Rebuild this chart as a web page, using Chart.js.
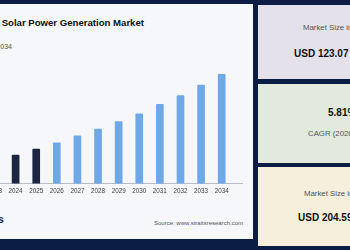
<!DOCTYPE html>
<html>
<head>
<meta charset="utf-8">
<script src="https://cdn.jsdelivr.net/npm/chart.js@4.4.1/dist/chart.umd.min.js"></script>
<style>
  html, body { margin: 0; padding: 0; }
  body { width: 350px; height: 250px; background: #0c1d45; position: relative; overflow: hidden;
         font-family: 'Liberation Sans', Arial, sans-serif; }
  .panel { position: absolute; left: 0; top: 4px; width: 253px; height: 235px; background: #f5f7fb; }
  .card { position: absolute; left: 258px; width: 100px; }
  .t { position: absolute; white-space: nowrap; }
  #chartBox { position: absolute; left: -16px; top: 60px; width: 259px; height: 139px; }
</style>
</head>
<body>
<div class="panel"></div>
<div class="card" style="top:5px;height:74px;background:#e5e1eb"></div>
<div class="card" style="top:84px;height:79px;background:#e1eadd"></div>
<div class="card" style="top:167px;height:79px;background:#f6efdc"></div>

<div class="t" style="right:206px;top:18px;font-size:9.6px;line-height:10px;font-weight:bold;color:#111">Global Solar Power Generation Market</div>
<div class="t" style="right:338px;top:43px;font-size:7px;line-height:8px;color:#555">2021-2034</div>
<div class="t" style="right:346px;top:213px;font-size:11px;line-height:12px;font-weight:bold;color:#1c2541">Straits</div>
<div class="t" style="right:107px;top:220px;font-size:6px;line-height:7px;color:#555">Source: www.straitsresearch.com</div>

<div class="t" style="left:303px;top:24px;font-size:7.8px;line-height:8px;color:#555">Market Size in 2025</div>
<div class="t" style="left:294px;top:48px;font-size:10px;line-height:11px;font-weight:bold;color:#111">USD 123.07 Billion</div>
<div class="t" style="left:328px;top:107px;font-size:10px;line-height:11px;font-weight:bold;color:#111">5.81%</div>
<div class="t" style="left:308px;top:130px;font-size:7.8px;line-height:8px;color:#555">CAGR (2026-2034)</div>
<div class="t" style="left:304px;top:190px;font-size:7.8px;line-height:8px;color:#555">Market Size in 2034</div>
<div class="t" style="left:298px;top:212px;font-size:10px;line-height:11px;font-weight:bold;color:#111">USD 204.59 Billion</div>

<div id="chartBox"><canvas id="chartMarket" width="259" height="139"></canvas></div>

<script>
// market size, USD billion
const years = ['2023', '2024', '2025', '2026', '2027', '2028', '2029', '2030', '2031', '2032', '2033', '2034'];
const marketSize = [110, 116.5, 123.07, 130, 137.5, 145, 153, 161.5, 172, 181.5, 193, 204.59];
const historicalYears = ['2023', '2024', '2025'];

const colorHistory = '#1c2541';
const colorForecast = '#6ea8e6';

const baseline = {
  id: 'baseline',
  beforeDatasetsDraw(chart) {
    const ctx = chart.ctx;
    const y = Math.round(chart.scales.y.getPixelForValue(chart.scales.y.min)) + 0.5;
    ctx.save();
    ctx.strokeStyle = '#b9bdc6';
    ctx.lineWidth = 1;
    ctx.beginPath();
    ctx.moveTo(0, y);
    ctx.lineTo(chart.chartArea.right + 11, y);
    ctx.stroke();
    ctx.restore();
  },
};

function chart() {
  const chart_ctx = document.getElementById('chartMarket');
  new Chart(chart_ctx, {
    type: 'bar',
    data: {
      labels: years,
      datasets: [
        {
          data: marketSize,
          backgroundColor: years.map(function (y) {
            return historicalYears.includes(y) ? colorHistory : colorForecast;
          }),
          barThickness: 7,
          borderRadius: 1,
          borderSkipped: 'bottom',
        },
      ],
    },
    options: {
      responsive: false,
      animation: false,
      devicePixelRatio: 1,
      layout: {
        padding: { top: 10, right: 11, left: 0, bottom: 0 },
      },
      plugins: {
        legend: { display: false },
        tooltip: { enabled: false },
      },
      scales: {
        x: {
          grid: { display: false, drawTicks: false },
          border: { display: false },
          ticks: {
            color: '#444',
            padding: 4,
            maxRotation: 0,
            autoSkip: false,
            font: { family: "'Liberation Sans', Arial, sans-serif", size: 6.3 },
          },
        },
        y: {
          display: false,
          min: 85.7,
          max: 209.3,
        },
      },
    },
    plugins: [baseline],
  });
}

chart();
</script>
</body>
</html>
